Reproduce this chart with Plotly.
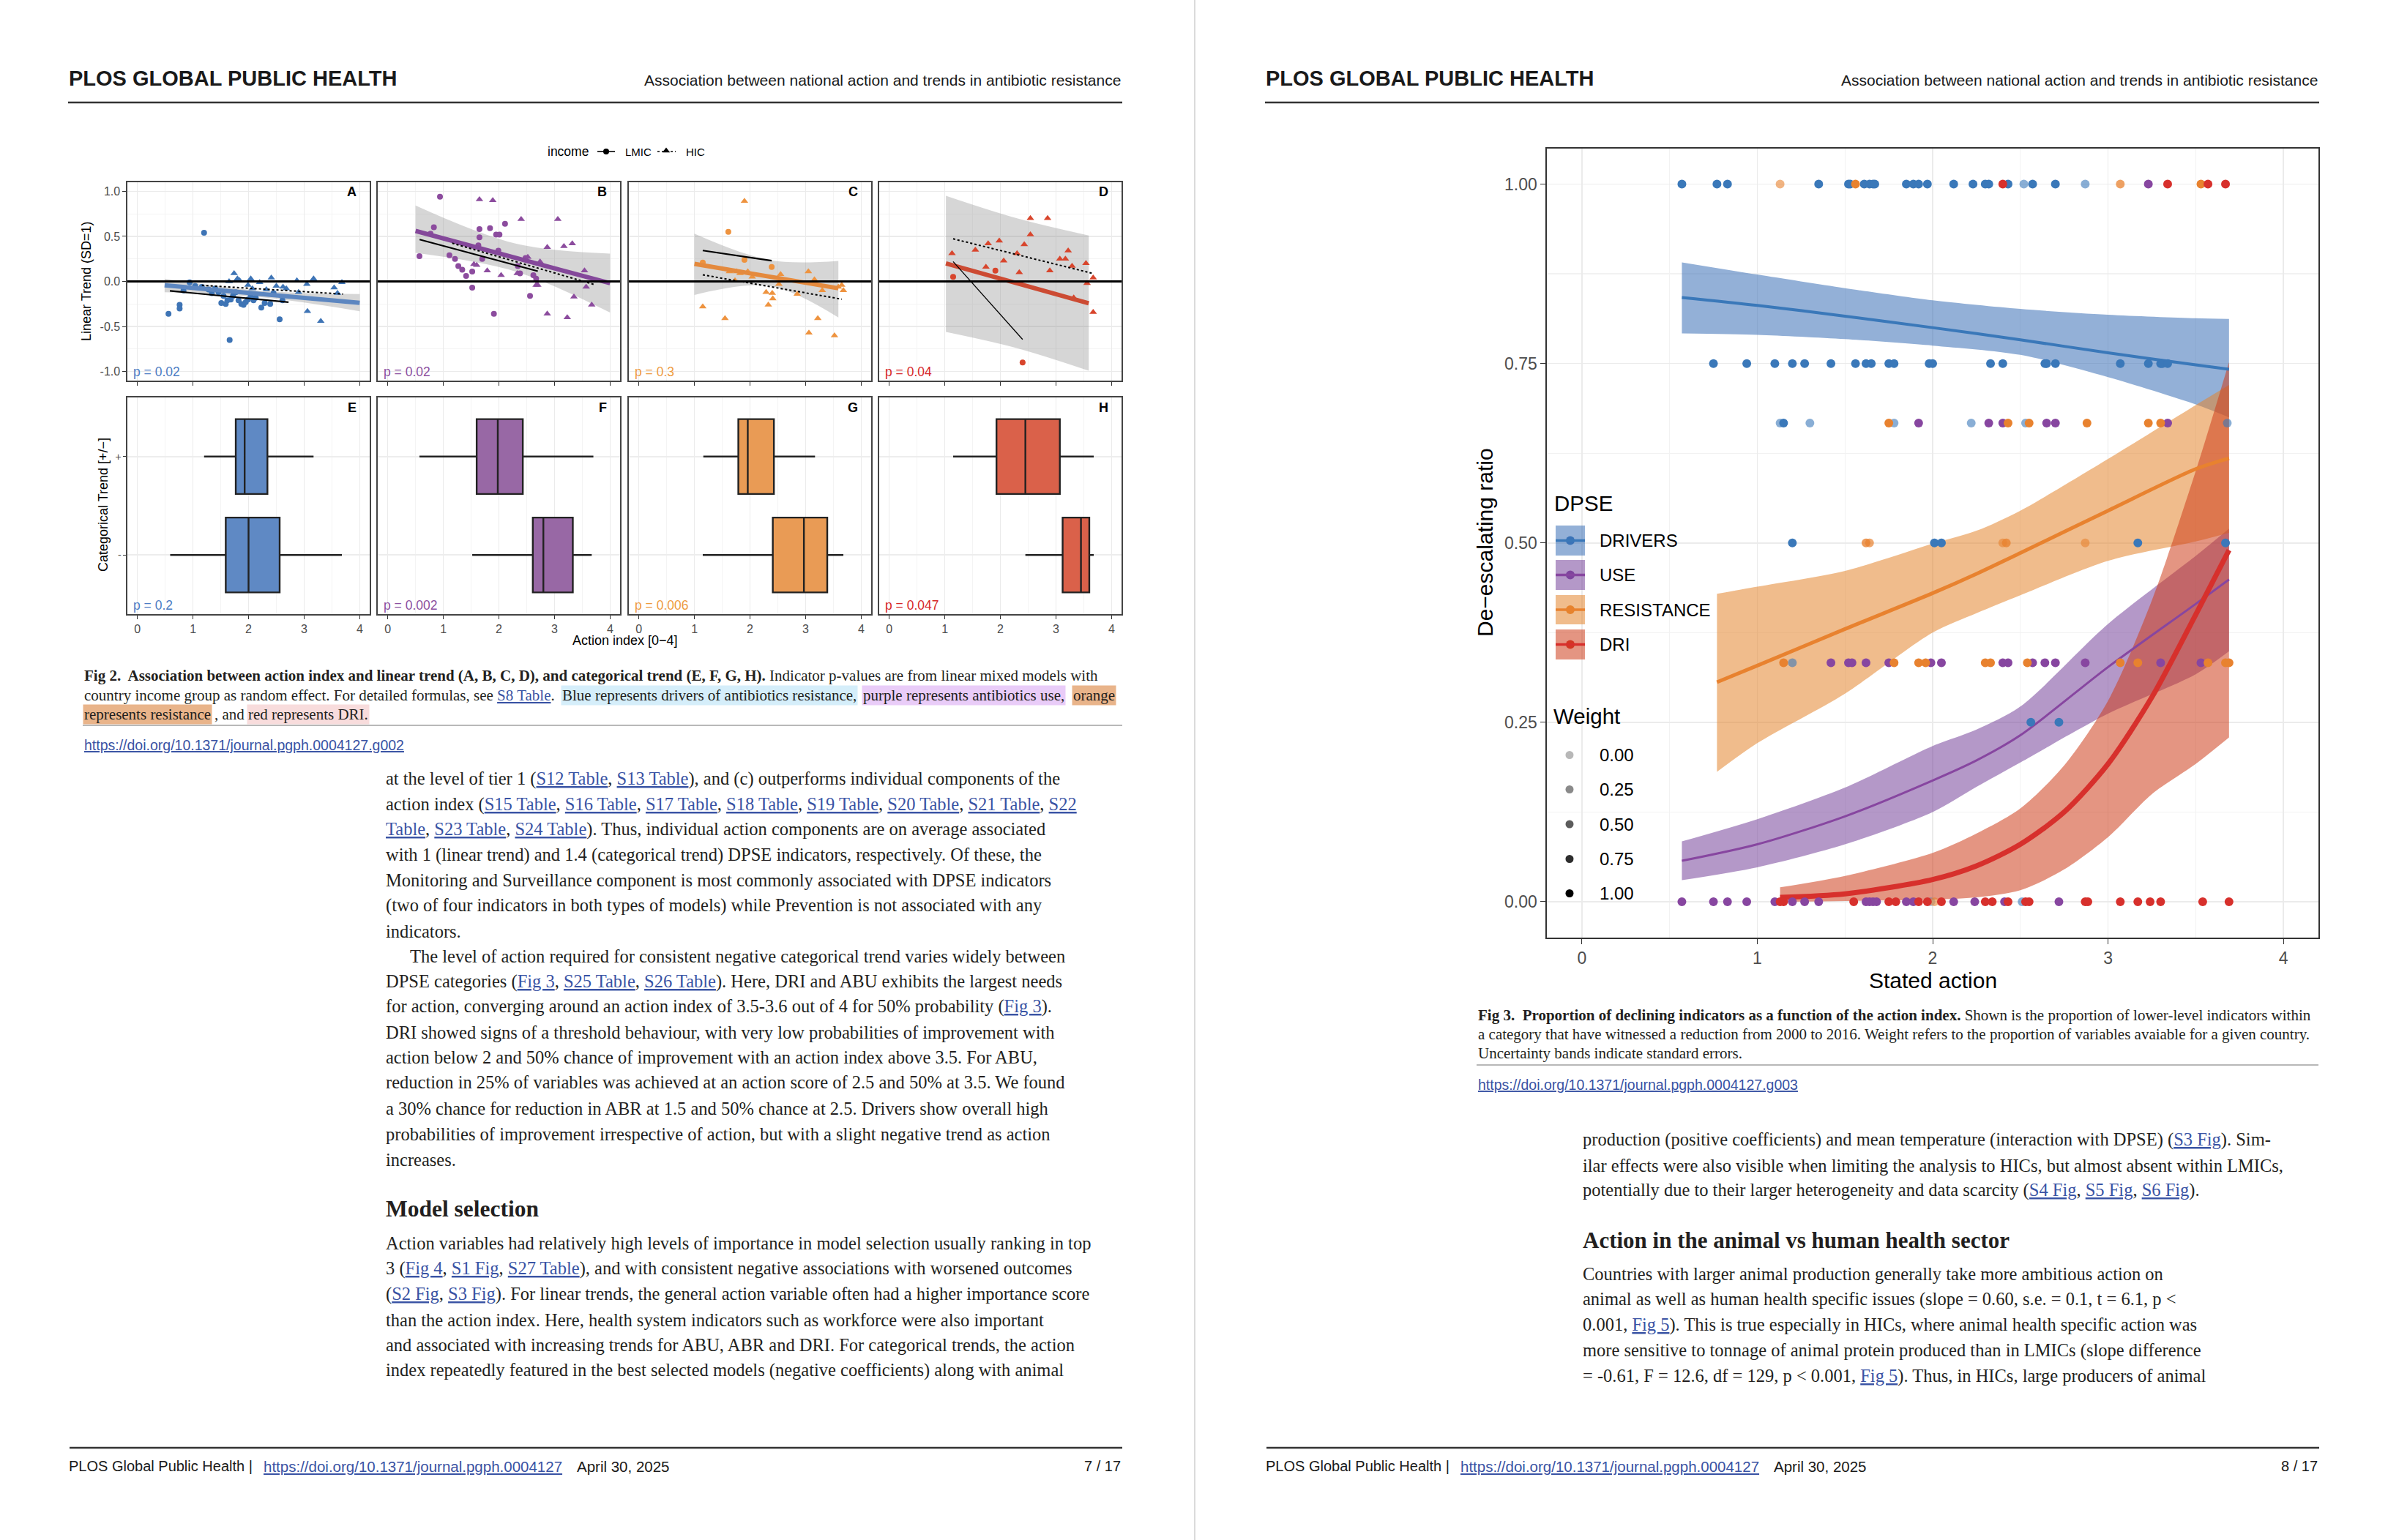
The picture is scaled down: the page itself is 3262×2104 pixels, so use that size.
import plotly.graph_objects as go

W, H = 3262, 2104

# ===================== DATA =====================
# ---- Fig 2 (A-D): action index vs linear trend; (x, y) pairs
A_LMIC = [(0.56,-0.36),(0.76,-0.26),(0.76,-0.30),(0.83,-0.10),(0.94,-0.01),(1.04,-0.05),(1.16,-0.06),(1.20,0.54),
          (1.28,-0.09),(1.34,-0.13),(1.40,-0.08),(1.46,-0.12),(1.51,-0.24),(1.55,-0.16),(1.59,-0.25),(1.62,-0.21),
          (1.66,-0.65),(1.68,-0.20),(1.72,-0.16),(1.77,-0.12),(1.82,-0.21),(1.87,-0.25),(1.91,-0.26),(1.95,-0.23),
          (1.99,-0.20),(2.04,-0.16),(2.09,-0.21),(2.13,-0.18),(2.23,-0.29),(2.29,-0.24),(2.39,-0.25),(2.45,-0.13),
          (2.56,-0.42),(2.61,-0.21)]
A_HIC = [(1.65,0.00),(1.74,0.09),(1.80,0.03),(1.84,0.01),(1.99,-0.04),(2.04,0.03),(2.07,-0.08),(2.20,-0.01),
         (2.32,-0.09),(2.41,0.04),(2.50,-0.05),(2.62,-0.06),(2.68,-0.08),(2.87,0.01),(2.90,-0.12),(3.05,-0.03),
         (3.06,-0.33),(3.17,0.03),(3.30,-0.44),(3.54,-0.07),(3.60,-0.13),(3.68,-0.01)]
B_LMIC = [(0.94,0.94),(0.83,0.60),(0.77,0.53),(0.57,0.28),(1.11,0.29),(1.21,0.25),(1.27,0.17),(1.34,0.13),
          (1.41,0.06),(1.52,0.11),(1.52,-0.07),(1.63,0.40),(1.65,0.58),(1.65,0.49),(1.70,0.25),(1.84,0.59),
          (1.91,-0.36),(1.95,0.52),(1.99,0.34),(2.01,0.52),(2.11,0.64),(2.34,0.17),(2.38,0.09),(2.48,0.26),
          (2.56,-0.16),(2.62,0.07),(2.67,0.03)]
B_HIC = [(1.55,0.19),(1.60,0.18),(1.65,0.91),(1.79,0.12),(1.89,0.90),(2.04,0.07),(2.33,0.09),(2.40,0.69),
         (2.52,0.27),(2.67,-0.04),(2.70,-0.04),(2.74,0.22),(2.87,0.38),(2.87,-0.36),(3.06,0.69),(3.17,0.39),
         (3.23,-0.40),(3.32,0.42),(3.35,-0.17),(3.54,0.12),(3.57,-0.06),(3.67,-0.26)]
C_LMIC = [(1.15,0.21),(1.61,0.55),(1.90,0.24),(2.39,0.16)]
C_HIC = [(1.15,-0.28),(1.55,-0.41),(1.63,0.11),(1.73,0.01),(1.76,0.11),(1.82,0.09),(1.90,0.89),(1.96,0.11),
         (2.04,0.05),(2.29,-0.12),(2.33,-0.26),(2.40,-0.13),(2.41,-0.19),(2.52,-0.03),(2.55,0.08),(2.85,-0.14),
         (3.05,0.11),(3.06,-0.57),(3.16,0.02),(3.22,-0.41),(3.30,-0.10),(3.52,-0.60),(3.59,-0.06),(3.65,-0.04),
         (3.68,-0.10)]
D_LMIC = [(1.15,0.05),(1.91,0.12),(2.40,-0.90)]
D_HIC = [(1.13,0.31),(1.55,0.35),(1.74,0.16),(1.78,0.42),(1.98,0.45),(2.06,0.23),(2.30,0.31),(2.34,0.10),
         (2.43,0.41),(2.54,0.52),(2.54,0.70),(2.85,0.70),(2.89,0.12),(3.07,0.25),(3.17,0.25),(3.22,0.34),
         (3.29,0.17),(3.32,-0.18),(3.54,0.20),(3.56,-0.02),(3.67,0.04),(3.67,-0.34)]

# fitted lines (x, y) and standard-error bands (x, low, high)
A_FIT = [(0.49,-0.043),(4.0,-0.238)]
A_BAND = [(0.49,-0.12,0.03),(2.2,-0.173,-0.103),(4.0,-0.33,-0.14)]
A_LMIC_FIT = [(0.585,-0.105),(2.72,-0.23)]
A_HIC_FIT = [(1.16,-0.043),(3.70,-0.14)]
B_FIT = [(0.50,0.56),(4.0,-0.02)]
B_BAND = [(0.50,0.316,0.843),(2.30,0.11,0.42),(4.0,-0.346,0.308)]
B_LMIC_FIT = [(0.573,0.465),(2.70,0.114)]
B_HIC_FIT = [(1.16,0.424),(3.72,-0.035)]
C_FIT = [(1.0,0.195),(3.59,-0.076)]
C_BAND = [(1.0,-0.15,0.53),(2.36,-0.05,0.235),(3.59,-0.40,0.227)]
C_LMIC_FIT = [(1.15,0.343),(2.39,0.23)]
C_HIC_FIT = [(1.15,0.073),(3.65,-0.197)]
D_FIT = [(1.02,0.20),(3.59,-0.243)]
D_BAND = [(1.02,-0.56,0.95),(2.30,-0.74,0.70),(3.59,-0.99,0.51)]
D_LMIC_FIT = [(1.15,0.22),(2.40,-0.643)]
D_HIC_FIT = [(1.15,0.473),(3.68,0.086)]

# ---- Fig 2 (E-H): categorical trend box statistics (panels E, F, G, H)
BOX_PLUS_LO = [1.20, 0.57, 1.16, 1.15]
BOX_PLUS_Q1 = [1.77, 1.60, 1.79, 1.93]
BOX_PLUS_MED = [1.93, 1.98, 1.96, 2.45]
BOX_PLUS_Q3 = [2.34, 2.43, 2.43, 3.07]
BOX_PLUS_HI = [3.17, 3.70, 3.17, 3.68]
BOX_MINUS_LO = [0.59, 1.52, 1.15, 2.45]
BOX_MINUS_Q1 = [1.59, 2.61, 2.41, 3.12]
BOX_MINUS_MED = [2.00, 2.80, 2.97, 3.45]
BOX_MINUS_Q3 = [2.56, 3.33, 3.39, 3.60]
BOX_MINUS_HI = [3.68, 3.67, 3.68, 3.68]

P_TOP = ["p = 0.02", "p = 0.02", "p = 0.3", "p = 0.04"]
P_BOTTOM = ["p = 0.2", "p = 0.002", "p = 0.006", "p = 0.047"]
TOP_LETTERS = ["A", "B", "C", "D"]
BOTTOM_LETTERS = ["E", "F", "G", "H"]
X_TICKS = [0, 1, 2, 3, 4]
Y_TICKS_TOP = [-1.0, -0.5, 0.0, 0.5, 1.0]
Y_TICKTEXT_TOP = ["-1.0", "-0.5", "0.0", "0.5", "1.0"]
CAT_POS = [1, 2]
CAT_LABELS = ["-", "+"]

# ---- Fig 3: points per ratio level: (action, DPSE group, weight)
ROW_100 = [(0.57,'DRV',1),(0.77,'DRV',1),(0.83,'DRV',1),(1.13,'RES',0.6),(1.35,'DRV',1),(1.52,'DRV',1),(1.53,'DRV',1),
           (1.56,'RES',1),(1.61,'DRV',1),(1.64,'DRV',1),(1.66,'DRV',1),(1.67,'DRV',1),(1.85,'DRV',1),(1.89,'DRV',1),
           (1.92,'DRV',1),(1.97,'DRV',1),(2.12,'DRV',1),(2.23,'DRV',1),(2.30,'DRV',1),(2.32,'DRV',1),(2.40,'DRI',1),
           (2.43,'DRV',1),(2.52,'DRV',0.6),(2.57,'DRV',1),(2.70,'DRV',1),(2.87,'DRV',0.6),(3.07,'RES',0.75),
           (3.23,'USE',1),(3.34,'DRI',1),(3.53,'RES',1),(3.57,'DRI',1),(3.67,'DRI',1)]
ROW_075 = [(0.75,'DRV',1),(0.94,'DRV',1),(1.10,'DRV',1),(1.20,'DRV',1),(1.27,'DRV',1),(1.42,'DRV',1),(1.56,'DRV',1),
           (1.62,'DRV',1),(1.65,'DRV',1),(1.75,'DRV',1),(1.78,'DRV',1),(1.98,'DRV',1),(2.00,'DRV',1),(2.33,'DRV',1),
           (2.40,'DRV',1),(2.64,'DRV',1),(2.65,'DRV',1),(2.70,'DRV',1),(3.07,'DRV',1),(3.23,'DRV',1),(3.30,'DRV',1),
           (3.31,'DRV',1),(3.34,'DRV',1)]
ROW_067 = [(1.13,'DRV',0.6),(1.15,'DRV',1),(1.30,'DRV',0.6),(1.75,'RES',1),(1.78,'DRV',0.6),(1.92,'USE',1),
           (2.22,'DRV',0.6),(2.32,'USE',1),(2.40,'USE',1),(2.43,'RES',1),(2.53,'DRV',0.6),(2.55,'RES',1),
           (2.65,'USE',1),(2.70,'USE',1),(2.88,'RES',1),(3.23,'RES',1),(3.30,'RES',1),(3.34,'USE',1),(3.68,'DRV',0.6)]
ROW_050 = [(1.20,'DRV',1),(1.62,'RES',0.8),(1.64,'RES',0.7),(2.01,'DRV',1),(2.05,'DRV',1),(2.40,'RES',0.6),
           (2.42,'RES',0.8),(2.87,'RES',0.6),(3.17,'DRV',1),(3.67,'DRV',1)]
ROW_033 = [(1.15,'RES',1),(1.20,'DRV',0.6),(1.42,'USE',1),(1.52,'USE',1),(1.54,'USE',1),(1.62,'USE',1),(1.75,'USE',1),
           (1.78,'RES',1),(1.92,'RES',1),(1.96,'RES',1),(1.99,'USE',1),(2.05,'USE',1),(2.30,'RES',1),(2.33,'RES',1),
           (2.40,'USE',1),(2.43,'USE',1),(2.54,'RES',1),(2.57,'USE',1),(2.64,'USE',1),(2.70,'USE',1),(2.87,'USE',1),
           (3.07,'RES',1),(3.17,'RES',1),(3.30,'USE',1),(3.53,'USE',1),(3.57,'RES',1),(3.67,'RES',1),(3.69,'RES',1)]
ROW_025 = [(2.56,'DRV',1),(2.72,'DRV',1)]
ROW_000 = [(0.57,'USE',1),(0.75,'USE',1),(0.83,'USE',1),(0.94,'USE',1),(1.10,'USE',1),(1.13,'DRI',1),(1.15,'DRI',1),
           (1.20,'USE',1),(1.27,'USE',1),(1.35,'USE',1),(1.55,'DRI',1),(1.62,'USE',1),(1.64,'USE',1),(1.66,'USE',1),
           (1.68,'USE',1),(1.75,'DRI',1),(1.79,'DRI',1),(1.85,'USE',1),(1.89,'USE',1),(1.92,'DRI',1),(1.97,'DRI',1),
           (1.99,'DRV',0.4),(2.01,'RES',0.6),(2.05,'DRI',1),(2.12,'USE',1),(2.24,'USE',1),(2.30,'DRI',1),(2.34,'DRI',1),
           (2.41,'USE',1),(2.43,'DRI',1),(2.51,'DRV',0.6),(2.53,'DRI',1),(2.55,'DRI',1),(2.72,'USE',1),(2.87,'DRI',1),
           (2.885,'DRI',1),(3.07,'DRI',1),(3.17,'DRI',1),(3.24,'DRI',1),(3.30,'DRI',1),(3.54,'DRI',1),(3.69,'DRI',1)]
ROW_LEVELS = [1.00, 0.75, 0.667, 0.50, 0.333, 0.25, 0.00]

# ---- Fig 3: fitted curves with standard-error bands
DRV_X = [0.57, 1.0, 1.5, 2.0, 2.5, 3.0, 3.5, 3.69]
DRV_FIT = [0.842, 0.831, 0.816, 0.800, 0.783, 0.765, 0.748, 0.742]
DRV_LO = [0.792, 0.790, 0.784, 0.775, 0.762, 0.731, 0.693, 0.675]
DRV_HI = [0.891, 0.874, 0.855, 0.838, 0.826, 0.818, 0.813, 0.812]
USE_X = [0.57, 1.0, 1.5, 2.0, 2.25, 2.5, 3.0, 3.5, 3.69]
USE_FIT = [0.057, 0.080, 0.119, 0.169, 0.197, 0.232, 0.327, 0.415, 0.449]
USE_LO = [0.030, 0.048, 0.080, 0.125, 0.160, 0.194, 0.262, 0.317, 0.349]
USE_HI = [0.084, 0.115, 0.159, 0.217, 0.240, 0.272, 0.387, 0.482, 0.520]
RES_X = [0.77, 1.0, 1.5, 2.0, 2.25, 2.5, 3.0, 3.5, 3.69]
RES_FIT = [0.306, 0.329, 0.380, 0.430, 0.457, 0.486, 0.545, 0.603, 0.618]
RES_LO = [0.181, 0.221, 0.290, 0.375, 0.402, 0.427, 0.475, 0.502, 0.514]
RES_HI = [0.429, 0.439, 0.461, 0.499, 0.517, 0.545, 0.617, 0.692, 0.720]
DRI_X = [1.13, 1.5, 2.0, 2.25, 2.5, 2.75, 3.0, 3.25, 3.5, 3.69]
DRI_FIT = [0.006, 0.011, 0.031, 0.050, 0.080, 0.125, 0.192, 0.285, 0.400, 0.490]
DRI_LO = [0.000, 0.001, 0.003, 0.006, 0.016, 0.045, 0.090, 0.150, 0.192, 0.229]
DRI_HI = [0.020, 0.036, 0.068, 0.095, 0.130, 0.190, 0.280, 0.420, 0.600, 0.752]

DPSE_LABELS = ["DRIVERS", "USE", "RESISTANCE", "DRI"]
WEIGHT_LABELS = ["0.00", "0.25", "0.50", "0.75", "1.00"]
WEIGHT_VALUES = [0.0, 0.25, 0.50, 0.75, 1.00]
F3_XTICKS = [0, 1, 2, 3, 4]
F3_YTICKS = [0.0, 0.25, 0.50, 0.75, 1.00]
F3_YTICKTEXT = ["0.00", "0.25", "0.50", "0.75", "1.00"]

# ===================== STYLE =====================
F2_PT = ["#3E74B5", "#8C4C9E", "#EE933F", "#D8452C"]
F2_LINE = ["#5C86C0", "#84489A", "#E48A3E", "#CC4B33"]
F2_PCOL = ["#4C7DC4", "#8C4FA0", "#EE9B3F", "#D6282A"]
BOX_FILL = ["#5F89C4", "#9868A5", "#E99B55", "#DA614A"]
GRP = ['DRV', 'USE', 'RES', 'DRI']
GCOL = {'DRV': '#3A78B9', 'USE': '#8746A0', 'RES': '#E8822F', 'DRI': '#D7302C'}
GBAND = {'DRV': 'rgba(59,111,182,0.55)', 'USE': 'rgba(119,68,155,0.55)',
         'RES': 'rgba(227,133,46,0.55)', 'DRI': 'rgba(205,62,28,0.55)'}
GLW = {'DRV': 4, 'USE': 3, 'RES': 5, 'DRI': 7}
LINK = "#3953A4"
TXT = "#231F20"
SERIF = "Liberation Serif"
SANS = "Liberation Sans"

PANEL_X = [(174, 505), (516, 847), (859, 1190), (1201, 1532)]
TOP_Y = (249, 520)
BOT_Y = (543, 839)
F3_PX = (2113, 3167)
F3_PY = (202.5, 1281)

fig = go.Figure()
axes = {}
shapes = []
ann = []


def axn(n):
    return ('x' if n == 1 else f'x{n}'), ('y' if n == 1 else f'y{n}')


def set_axes(n, xd, yd, xcfg, ycfg):
    xk = 'xaxis' if n == 1 else f'xaxis{n}'
    yk = 'yaxis' if n == 1 else f'yaxis{n}'
    xa, ya = axn(n)
    axes[xk] = dict(domain=[xd[0] / W, xd[1] / W], anchor=ya, **xcfg)
    axes[yk] = dict(domain=[1 - yd[1] / H, 1 - yd[0] / H], anchor=xa, **ycfg)


def txt(x, y, s, size, color=TXT, family=SERIF, xanchor='left', yanchor='middle', angle=0, bg=None):
    d = dict(x=x / W, y=1 - y / H, xref='paper', yref='paper', text=s, showarrow=False,
             xanchor=xanchor, yanchor=yanchor, textangle=angle, borderpad=1,
             font=dict(size=size, color=color, family=family))
    if bg:
        d['bgcolor'] = bg
    ann.append(d)


def pline(x0, y0, x1, y1, color, width, dash=None):
    ln = dict(color=color, width=width)
    if dash:
        ln['dash'] = dash
    shapes.append(dict(type='line', xref='paper', yref='paper', x0=x0 / W, x1=x1 / W,
                       y0=1 - y0 / H, y1=1 - y1 / H, line=ln, layer='above'))


def prect(x0, y0, x1, y1, fill):
    shapes.append(dict(type='rect', xref='paper', yref='paper', x0=x0 / W, x1=x1 / W,
                       y0=1 - y1 / H, y1=1 - y0 / H, fillcolor=fill, line=dict(width=0), layer='above'))


def L(s):
    return f"<span style='color:{LINK}'><u>{s}</u></span>"


GRID = '#EBEBEB'
base_x2 = dict(range=[-0.18, 4.18], tickvals=X_TICKS, ticks='outside', ticklen=5, tickcolor='#333',
               showgrid=True, gridcolor=GRID, gridwidth=1.2,
               minor=dict(tickvals=[0.5, 1.5, 2.5, 3.5], showgrid=True, gridcolor='#F4F4F4', gridwidth=1),
               zeroline=False, showline=True, linecolor='#444', linewidth=1.6, mirror=True,
               tickfont=dict(size=16, color='#4D4D4D', family=SANS), fixedrange=True)

# ---------------- Fig 2 top row ----------------
TOP_DATA = [(A_LMIC, A_HIC, A_FIT, A_BAND, A_LMIC_FIT, A_HIC_FIT),
            (B_LMIC, B_HIC, B_FIT, B_BAND, B_LMIC_FIT, B_HIC_FIT),
            (C_LMIC, C_HIC, C_FIT, C_BAND, C_LMIC_FIT, C_HIC_FIT),
            (D_LMIC, D_HIC, D_FIT, D_BAND, D_LMIC_FIT, D_HIC_FIT)]
for i in range(4):
    n = i + 1
    xa, ya = axn(n)
    lmic, hic, fit, band, lf, hf = TOP_DATA[i]
    xcfg = dict(base_x2, showticklabels=False)
    ycfg = dict(range=[-1.1, 1.1], tickvals=Y_TICKS_TOP, ticktext=Y_TICKTEXT_TOP,
                showticklabels=(i == 0), ticks='outside' if i == 0 else '', ticklen=5, tickcolor='#333',
                showgrid=True, gridcolor=GRID, gridwidth=1.2,
                minor=dict(tickvals=[-0.75, -0.25, 0.25, 0.75], showgrid=True, gridcolor='#F4F4F4'),
                zeroline=False, showline=True, linecolor='#444', linewidth=1.6, mirror=True,
                tickfont=dict(size=16, color='#4D4D4D', family=SANS), fixedrange=True)
    set_axes(n, PANEL_X[i], TOP_Y, xcfg, ycfg)
    shapes.append(dict(type='line', xref=f'{xa} domain', yref=ya, x0=0, x1=1, y0=0, y1=0,
                       line=dict(color='black', width=3), layer='above'))
    bx = [b[0] for b in band]
    fig.add_trace(go.Scatter(x=bx, y=[b[1] for b in band], mode='lines', line=dict(width=0, shape='spline'),
                             xaxis=xa, yaxis=ya, hoverinfo='skip'))
    fig.add_trace(go.Scatter(x=bx, y=[b[2] for b in band], mode='lines', line=dict(width=0, shape='spline'),
                             fill='tonexty', fillcolor='rgba(140,140,140,0.36)', xaxis=xa, yaxis=ya, hoverinfo='skip'))
    fig.add_trace(go.Scatter(x=[p[0] for p in lmic], y=[p[1] for p in lmic], mode='markers',
                             marker=dict(symbol='circle', size=8, color=F2_PT[i]), xaxis=xa, yaxis=ya))
    fig.add_trace(go.Scatter(x=[p[0] for p in hic], y=[p[1] for p in hic], mode='markers',
                             marker=dict(symbol='triangle-up', size=9, color=F2_PT[i]), xaxis=xa, yaxis=ya))
    fig.add_trace(go.Scatter(x=[p[0] for p in fit], y=[p[1] for p in fit], mode='lines',
                             line=dict(color=F2_LINE[i], width=6), xaxis=xa, yaxis=ya))
    fig.add_trace(go.Scatter(x=[p[0] for p in lf], y=[p[1] for p in lf], mode='lines',
                             line=dict(color='black', width=1.3 if i == 3 else 2.2), xaxis=xa, yaxis=ya))
    fig.add_trace(go.Scatter(x=[p[0] for p in hf], y=[p[1] for p in hf], mode='lines',
                             line=dict(color='black', width=2, dash='dot'), xaxis=xa, yaxis=ya))
    txt(PANEL_X[i][1] - 16, 262, f"<b>{TOP_LETTERS[i]}</b>", 18, color='black', family=SANS, xanchor='right')
    txt(PANEL_X[i][0] + 6, 508, P_TOP[i], 17.5, color=F2_PCOL[i], family=SANS)

# ---------------- Fig 2 bottom row ----------------
for i in range(4):
    n = i + 5
    xa, ya = axn(n)
    xcfg = dict(base_x2, showticklabels=True)
    ycfg = dict(range=[0.4, 2.6], tickvals=CAT_POS, ticktext=CAT_LABELS, showticklabels=(i == 0),
                ticks='outside' if i == 0 else '', ticklen=4, tickcolor='#333',
                showgrid=True, gridcolor='#EDEDED', gridwidth=2,
                zeroline=False, showline=True, linecolor='#444', linewidth=1.6, mirror=True,
                tickfont=dict(size=14, color='#4D4D4D', family=SANS), fixedrange=True)
    set_axes(n, PANEL_X[i], BOT_Y, xcfg, ycfg)
    fig.add_trace(go.Box(orientation='h', y=CAT_POS,
                         q1=[BOX_MINUS_Q1[i], BOX_PLUS_Q1[i]],
                         median=[BOX_MINUS_MED[i], BOX_PLUS_MED[i]],
                         q3=[BOX_MINUS_Q3[i], BOX_PLUS_Q3[i]],
                         lowerfence=[BOX_MINUS_LO[i], BOX_PLUS_LO[i]],
                         upperfence=[BOX_MINUS_HI[i], BOX_PLUS_HI[i]],
                         width=0.76, whiskerwidth=0, fillcolor=BOX_FILL[i],
                         line=dict(color='#222', width=2.4), boxpoints=False,
                         xaxis=xa, yaxis=ya, hoverinfo='skip'))
    txt(PANEL_X[i][1] - 16, 557, f"<b>{BOTTOM_LETTERS[i]}</b>", 18, color='black', family=SANS, xanchor='right')
    txt(PANEL_X[i][0] + 6, 827, P_BOTTOM[i], 17.5, color=F2_PCOL[i], family=SANS)

# Fig 2 titles & legend
txt(118, 384, "Linear Trend (SD=1)", 18, color='black', family=SANS, xanchor='center', angle=-90)
txt(141, 690, "Categorical Trend [+/−]", 18, color='black', family=SANS, xanchor='center', angle=-90)
txt(854, 875, "Action index [0−4]", 18, color='black', family=SANS, xanchor='center')
txt(746, 207, "income", 17.5, color='black', family=SANS)
pline(816, 207, 840, 207, 'black', 1.6)
txt(852, 207, "LMIC", 15, color='black', family=SANS)
pline(898, 207, 923, 207, 'black', 1.6, dash='dot')
txt(935, 207, "HIC", 15, color='black', family=SANS)

# ---------------- Fig 3 ----------------
n = 9
xa, ya = axn(n)
set_axes(n, F3_PX, F3_PY,
         dict(range=[-0.2, 4.2], tickvals=F3_XTICKS, ticks='outside', ticklen=7, tickcolor='#333',
              showgrid=True, gridcolor=GRID, gridwidth=1.5,
              minor=dict(dtick=0.5, tick0=0, showgrid=True, gridcolor='#F2F2F2', gridwidth=1.2),
              zeroline=False, showline=True, linecolor='#333', linewidth=1.6, mirror=True,
              tickfont=dict(size=23, color='#4D4D4D', family=SANS), fixedrange=True),
         dict(range=[-0.05, 1.05], tickvals=F3_YTICKS, ticktext=F3_YTICKTEXT, ticks='outside', ticklen=7,
              tickcolor='#333', showgrid=True, gridcolor=GRID, gridwidth=1.5,
              minor=dict(dtick=0.125, tick0=0, showgrid=True, gridcolor='#F2F2F2', gridwidth=1.2),
              zeroline=False, showline=True, linecolor='#333', linewidth=1.6, mirror=True,
              tickfont=dict(size=23, color='#4D4D4D', family=SANS), fixedrange=True))
CURVES = {'DRV': (DRV_X, DRV_FIT, DRV_LO, DRV_HI), 'USE': (USE_X, USE_FIT, USE_LO, USE_HI),
          'RES': (RES_X, RES_FIT, RES_LO, RES_HI), 'DRI': (DRI_X, DRI_FIT, DRI_LO, DRI_HI)}
for g in GRP:
    cx, cf, clo, chi = CURVES[g]
    fig.add_trace(go.Scatter(x=cx, y=clo, mode='lines', line=dict(width=0, shape='spline', smoothing=0.8),
                             xaxis=xa, yaxis=ya, hoverinfo='skip'))
    fig.add_trace(go.Scatter(x=cx, y=chi, mode='lines', line=dict(width=0, shape='spline', smoothing=0.8),
                             fill='tonexty', fillcolor=GBAND[g], xaxis=xa, yaxis=ya, hoverinfo='skip'))
for g in GRP:
    cx, cf, clo, chi = CURVES[g]
    fig.add_trace(go.Scatter(x=cx, y=cf, mode='lines', line=dict(color=GCOL[g], width=GLW[g], shape='spline', smoothing=0.8),
                             xaxis=xa, yaxis=ya, hoverinfo='skip'))
ROWS = [ROW_100, ROW_075, ROW_067, ROW_050, ROW_033, ROW_025, ROW_000]
for g in GRP:
    px_, py_, op_ = [], [], []
    for lvl, row in zip(ROW_LEVELS, ROWS):
        for (ax_, gg, wt) in row:
            if gg == g:
                px_.append(ax_)
                py_.append(lvl)
                op_.append(wt)
    fig.add_trace(go.Scatter(x=px_, y=py_, mode='markers',
                             marker=dict(size=12, color=GCOL[g], opacity=op_, line=dict(width=0)),
                             xaxis=xa, yaxis=ya, hoverinfo='skip'))

txt(2640, 1339, "Stated action", 30, color='black', family=SANS, xanchor='center')
txt(2028, 741, "De−escalating ratio", 30, color='black', family=SANS, xanchor='center', angle=-90)

# Fig 3 legends (DPSE keys and Weight)
txt(2121, 687, "DPSE", 29.5, color='black', family=SANS)
KEY_Y = [(718, 759), (765, 806), (813, 853), (860, 901)]
for g, lab, (y0, y1) in zip(GRP, DPSE_LABELS, KEY_Y):
    prect(2125, y0, 2165, y1, GBAND[g])
    pline(2125, (y0 + y1) / 2, 2165, (y0 + y1) / 2, GCOL[g], 3.5)
    txt(2183, (y0 + y1) / 2, lab, 24, color='black', family=SANS)
txt(2120, 979, "Weight", 29.5, color='black', family=SANS)
WEIGHT_Y = [1031.5, 1078.5, 1126, 1173.5, 1220.5]
for lab, yy in zip(WEIGHT_LABELS, WEIGHT_Y):
    txt(2183, yy, lab, 24, color='black', family=SANS)

# canvas axis for legend glyph markers (pixel coordinates)
axes['xaxis10'] = dict(domain=[0, 1], range=[0, W], visible=False, anchor='y10', fixedrange=True)
axes['yaxis10'] = dict(domain=[0, 1], range=[H, 0], visible=False, anchor='x10', fixedrange=True)
fig.add_trace(go.Scatter(x=[828], y=[207], mode='markers', marker=dict(symbol='circle', size=8, color='black'),
                         xaxis='x10', yaxis='y10', hoverinfo='skip'))
fig.add_trace(go.Scatter(x=[910], y=[206], mode='markers', marker=dict(symbol='triangle-up', size=9, color='black'),
                         xaxis='x10', yaxis='y10', hoverinfo='skip'))
fig.add_trace(go.Scatter(x=[2145] * 4, y=[(a + b) / 2 for a, b in KEY_Y], mode='markers',
                         marker=dict(size=12, color=[GCOL[g] for g in GRP]),
                         xaxis='x10', yaxis='y10', hoverinfo='skip'))
fig.add_trace(go.Scatter(x=[2144] * 5, y=WEIGHT_Y, mode='markers',
                         marker=dict(size=11, color='black', opacity=[0.28 + 0.72 * w for w in WEIGHT_VALUES]),
                         xaxis='x10', yaxis='y10', hoverinfo='skip'))

# ---------------- page furniture ----------------
pline(1632, 0, 1632, H, '#CFCFCF', 1.5)
for off, page in [(0, "7 / 17"), (1635, "8 / 17")]:
    txt(92 + off, 107, "<b>PLOS GLOBAL PUBLIC HEALTH</b>", 29, color='#1a1a1a', family=SANS)
    txt(1533 + off, 109, "Association between national action and trends in antibiotic resistance", 21,
        color='#1a1a1a', family=SANS, xanchor='right')
    pline(93 + off, 140, 1533 + off, 140, '#333', 2.5)
    pline(95 + off, 1978, 1533 + off, 1978, '#333', 2.5)
    txt(92 + off, 2003, "PLOS Global Public Health |", 20, color='#1a1a1a', family=SANS)
    txt(358 + off, 2003, L("https://doi.org/10.1371/journal.pgph.0004127"), 20.5, family=SANS)
    txt(786 + off, 2003, "April 30, 2025", 20.5, color='#1a1a1a', family=SANS)
    txt(1533 + off, 2003, page, 20, color='#1a1a1a', family=SANS, xanchor='right')

# Fig 2 caption
CAP = 21
txt(113, 923, "<b>Fig 2.\u00a0 Association between action index and linear trend (A, B, C, D), and categorical trend (E, F, G, H).</b> Indicator p-values are from linear mixed models with", CAP)
txt(113, 950, "country income group as random effect. For detailed formulas, see " + L("S8 Table") + ".", CAP)
txt(766, 950, "Blue represents drivers of antibiotics resistance,", CAP, bg='#D5EEFA')
txt(1177, 950, "purple represents antibiotics use,", CAP, bg='#E9CCF8')
txt(1464, 950, "orange", CAP, bg='#E9B48A')
txt(113, 976, "represents resistance", CAP, bg='#E9B48A')
txt(291, 976, ", and", CAP)
txt(337, 976, "red represents DRI.", CAP, bg='#F8DCDC')
pline(113, 991, 1533, 991, '#A0A0A0', 1.6)
txt(113, 1018, L("https://doi.org/10.1371/journal.pgph.0004127.g002"), 19.5, family=SANS)

# Fig 3 caption
txt(2017, 1387, "<b>Fig 3.\u00a0 Proportion of declining indicators as a function of the action index.</b> Shown is the proportion of lower-level indicators within", CAP)
txt(2017, 1413, "a category that have witnessed a reduction from 2000 to 2016. Weight refers to the proportion of variables avaiable for a given country.", CAP)
txt(2017, 1439, "Uncertainty bands indicate standard errors.", CAP)
pline(2017, 1455, 3167, 1455, '#A0A0A0', 1.6)
txt(2017, 1482, L("https://doi.org/10.1371/journal.pgph.0004127.g003"), 19.5, family=SANS)

# body text, left page
BODY = 24.5
LEFT_LINES = [
    (1064, 525, "at the level of tier 1 (" + L("S12 Table") + ", " + L("S13 Table") + "), and (c) outperforms individual components of the"),
    (1099, 525, "action index (" + ", ".join(L(f"S{k} Table") for k in range(15, 22)) + ", " + L("S22")),
    (1133, 525, L("Table") + ", " + L("S23 Table") + ", " + L("S24 Table") + "). Thus, individual action components are on average associated"),
    (1168, 525, "with 1 (linear trend) and 1.4 (categorical trend) DPSE indicators, respectively. Of these, the"),
    (1202, 525, "Monitoring and Surveillance component is most commonly associated with DPSE indicators"),
    (1237, 525, "(two of four indicators in both types of models) while Prevention is not associated with any"),
    (1272, 525, "indicators."),
    (1306, 558, "The level of action required for consistent negative categorical trend varies widely between"),
    (1341, 525, "DPSE categories (" + L("Fig 3") + ", " + L("S25 Table") + ", " + L("S26 Table") + "). Here, DRI and ABU exhibits the largest needs"),
    (1375, 525, "for action, converging around an action index of 3.5-3.6 out of 4 for 50% probability (" + L("Fig 3") + ")."),
    (1410, 525, "DRI showed signs of a threshold behaviour, with very low probabilities of improvement with"),
    (1444, 525, "action below 2 and 50% chance of improvement with an action index above 3.5. For ABU,"),
    (1479, 525, "reduction in 25% of variables was achieved at an action score of 2.5 and 50% at 3.5. We found"),
    (1514, 525, "a 30% chance for reduction in ABR at 1.5 and 50% chance at 2.5. Drivers show overall high"),
    (1549, 525, "probabilities of improvement irrespective of action, but with a slight negative trend as action"),
    (1584, 525, "increases."),
    (1698, 525, "Action variables had relatively high levels of importance in model selection usually ranking in top"),
    (1733, 525, "3 (" + L("Fig 4") + ", " + L("S1 Fig") + ", " + L("S27 Table") + "), and with consistent negative associations with worsened outcomes"),
    (1768, 525, "(" + L("S2 Fig") + ", " + L("S3 Fig") + "). For linear trends, the general action variable often had a higher importance score"),
    (1803, 525, "than the action index. Here, health system indicators such as workforce were also important"),
    (1837, 525, "and associated with increasing trends for ABU, ABR and DRI. For categorical trends, the action"),
    (1872, 525, "index repeatedly featured in the best selected models (negative coefficients) along with animal"),
]
for yy, xx, s in LEFT_LINES:
    txt(xx, yy, s, BODY)
txt(525, 1651, "<b>Model selection</b>", 31.5)

RIGHT_LINES = [
    (1557, 2160, "production (positive coefficients) and mean temperature (interaction with DPSE) (" + L("S3 Fig") + "). Sim-"),
    (1592, 2160, "ilar effects were also visible when limiting the analysis to HICs, but almost absent within LMICs,"),
    (1626, 2160, "potentially due to their larger heterogeneity and data scarcity (" + L("S4 Fig") + ", " + L("S5 Fig") + ", " + L("S6 Fig") + ")."),
    (1740, 2160, "Countries with larger animal production generally take more ambitious action on"),
    (1775, 2160, "animal as well as human health specific issues (slope = 0.60, s.e. = 0.1, t = 6.1, p &lt;"),
    (1810, 2160, "0.001, " + L("Fig 5") + "). This is true especially in HICs, where animal health specific action was"),
    (1845, 2160, "more sensitive to tonnage of animal protein produced than in LMICs (slope difference"),
    (1880, 2160, "= -0.61, F = 12.6, df = 129, p &lt; 0.001, " + L("Fig 5") + "). Thus, in HICs, large producers of animal"),
]
for yy, xx, s in RIGHT_LINES:
    txt(xx, yy, s, BODY)
txt(2160, 1694, "<b>Action in the animal vs human health sector</b>", 31)

fig.update_layout(width=W, height=H, margin=dict(l=0, r=0, t=0, b=0, pad=0), autosize=False,
                  paper_bgcolor='white', plot_bgcolor='rgba(0,0,0,0)', showlegend=False,
                  font=dict(family=SANS), shapes=shapes, annotations=ann, dragmode=False,
                  hovermode=False, **axes)

fig.write_html("out.html", config={'displayModeBar': False, 'staticPlot': True},
               post_script="document.body.style.margin='0';document.body.style.overflow='hidden';")
